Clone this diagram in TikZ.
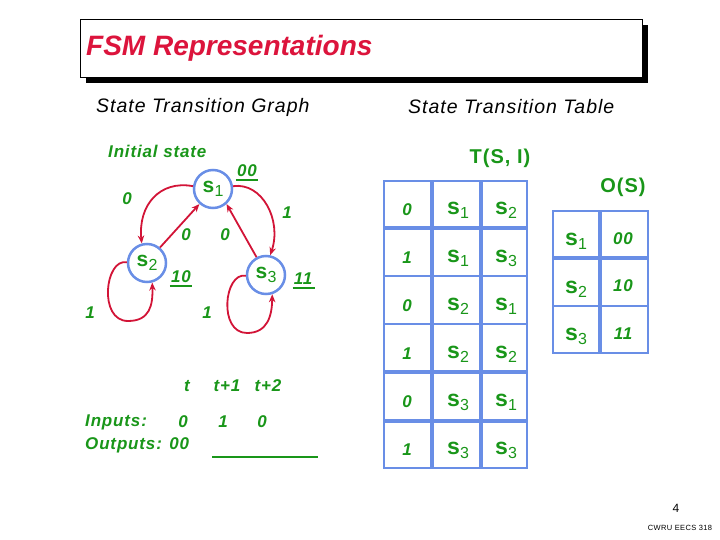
\documentclass[tikz,border=0pt]{standalone}
\usepackage{fontspec}
\setmainfont{Liberation Sans}
\newfontfamily\spaced[LetterSpace=5]{Liberation Sans}
\usetikzlibrary{arrows.meta}
\definecolor{fsmgreen}{RGB}{25,150,25}
\definecolor{arrred}{RGB}{210,20,55}
\definecolor{titlered}{RGB}{220,20,60}
\definecolor{cellblue}{RGB}{105,142,230}
\newcommand\stt[1]{\textbf{s}\kern0.3pt\raisebox{-4pt}{\fontsize{16}{16}\selectfont #1}}
\tikzset{
  gtxt/.style={text=fsmgreen, inner sep=0pt, font=\spaced\fontsize{17}{19}\selectfont\bfseries\itshape},
  stlabel/.style={text=fsmgreen, inner sep=0pt, font=\fontsize{23}{24}\selectfont},
  statenode/.style={circle, draw=cellblue, line width=2.5pt, minimum size=38pt, inner sep=0pt, text=fsmgreen, font=\fontsize{21}{22}\selectfont},
  arr/.style={draw=arrred, line width=1.8pt, -{Stealth[length=8pt,width=6.5pt]}},
  heading/.style={inner sep=0pt, font=\spaced\fontsize{19.5}{22}\selectfont\itshape, anchor=west},
  tline/.style={draw=cellblue, line width=3.3pt},
  tthin/.style={draw=cellblue, line width=2pt},
  ulin/.style={draw=fsmgreen, line width=1.6pt},
  ghead/.style={text=fsmgreen, inner sep=0pt, font=\spaced\fontsize{20}{22}\selectfont\bfseries},
}
\begin{document}
\begin{tikzpicture}[x=1pt,y=-1pt]
\useasboundingbox (0,0) rectangle (720,540);
% title box
\fill[black] (86,25) rectangle (648,83);
\draw[black, fill=white, line width=0.8pt] (80,19) rectangle (642,77);
\node[anchor=west, inner sep=0pt, text=titlered, font=\fontsize{28}{32}\selectfont\bfseries\itshape] (title) at (86,48) {FSM Representations};
\node[heading] (hg) at (96,107) {State Transition Graph};
\node[heading] (ht) at (408,107) {State Transition Table};

% graph
\node[gtxt, anchor=west] (init) at (108,151) {Initial state};
\node[statenode] (s1) at (213,189) {\stt{1}};
\node[statenode] (s2) at (147,263) {\stt{2}};
\node[statenode] (s3) at (266,275) {\stt{3}};
\node[gtxt] (o1) at (247,171) {00};
\draw[ulin] (o1.south west) ++(-1,3) -- ++(22,0);
\node[gtxt] (o2) at (181,277) {10};
\draw[ulin] (o2.south west) ++(-1,3) -- ++(22,0);
\node[gtxt] (o3) at (303,279) {11};
\draw[ulin] (o3.south west) ++(-1,3) -- ++(22,0);
\node[gtxt] (l1) at (127,199) {0};
\node[gtxt] (l2) at (287,213) {1};
\node[gtxt] (l3) at (186,235) {0};
\node[gtxt] (l4) at (225,235) {0};
\node[gtxt] (l5) at (90,313) {1};
\node[gtxt] (l6) at (207,313) {1};

\draw[arr] (s1.172) .. controls (160,180) and (138,205) .. (s2.105);
\draw[arr] (s1.8) .. controls (262,182) and (282,220) .. (s3.78);
\draw[arr] (s2.50) -- (s1.228);
\draw[arr] (s3.118) -- (s1.-48);
\draw[arr] (s2.178) .. controls (105,258) and (98,321) .. (128,321) .. controls (150,321) and (153,305) .. (s2.-75);
\draw[arr] (s3.182) .. controls (224,272) and (218,333) .. (247,333) .. controls (268,333) and (272,315) .. (s3.-72);

% timing
\node[gtxt] (t0) at (187,386) {t};
\node[gtxt] (t1) at (227,386) {t+1};
\node[gtxt] (t2) at (268,386) {t+2};
\node[gtxt, anchor=west] (inp) at (85,422) {Inputs:};
\node[gtxt] (i0) at (183,422) {0};
\node[gtxt] (i1) at (223,422) {1};
\node[gtxt] (i2) at (262,422) {0};
\node[gtxt, anchor=west] (outp) at (85,445) {Outputs: 00};
\coordinate (ua) at (212,457);
\coordinate (ub) at (318,457);
\draw[ulin] (ua) -- (ub);

% transition table
\node[ghead] (tsi) at (500,158) {T(S, I)};
\draw[tline] (432,181) -- (432,468);
\draw[tline] (481,181) -- (481,468);
\foreach \yy in {228,372,421} { \draw[tline] (384,\yy) -- (527,\yy); }
\foreach \yy in {276,324} { \draw[tthin] (384,\yy) -- (527,\yy); }
\draw[draw=cellblue, line width=1.7pt] (384,181) rectangle (527,468);
\foreach \i/\a/\b [count=\r from 0] in {0/1/2, 1/1/3, 0/2/1, 1/2/2, 0/3/1, 1/3/3} {
  \pgfmathsetmacro\yc{204.5+48*\r}
  \node[gtxt] (ta\r) at (407,\yc+5) {\i};
  \node[stlabel] (tb\r) at (458,\yc+6) {\stt{\a}};
  \node[stlabel] (tc\r) at (506,\yc+6) {\stt{\b}};
}
% output table
\node[ghead] (os) at (623,187) {O(S)};
\draw[tline] (600,211) -- (600,353);
\draw[tline] (553,258) -- (648,258);
\draw[tthin] (553,306) -- (648,306);
\draw[draw=cellblue, line width=1.7pt] (553,211) rectangle (648,353);
\foreach \a/\o [count=\r from 0] in {1/00, 2/10, 3/11} {
  \pgfmathsetmacro\yc{234.5+47.5*\r}
  \node[stlabel] (oa\r) at (576,\yc+7) {\stt{\a}};
  \node[gtxt] (ob\r) at (623,\yc+4) {\o};
}

% footer
\node[inner sep=0pt, font=\fontsize{12}{14}\selectfont] (pg) at (676,508) {4};
\node[inner sep=0pt, font=\spaced\fontsize{7.5}{8}\selectfont] (cw) at (680,528) {CWRU EECS 318};
\end{tikzpicture}
\end{document}
